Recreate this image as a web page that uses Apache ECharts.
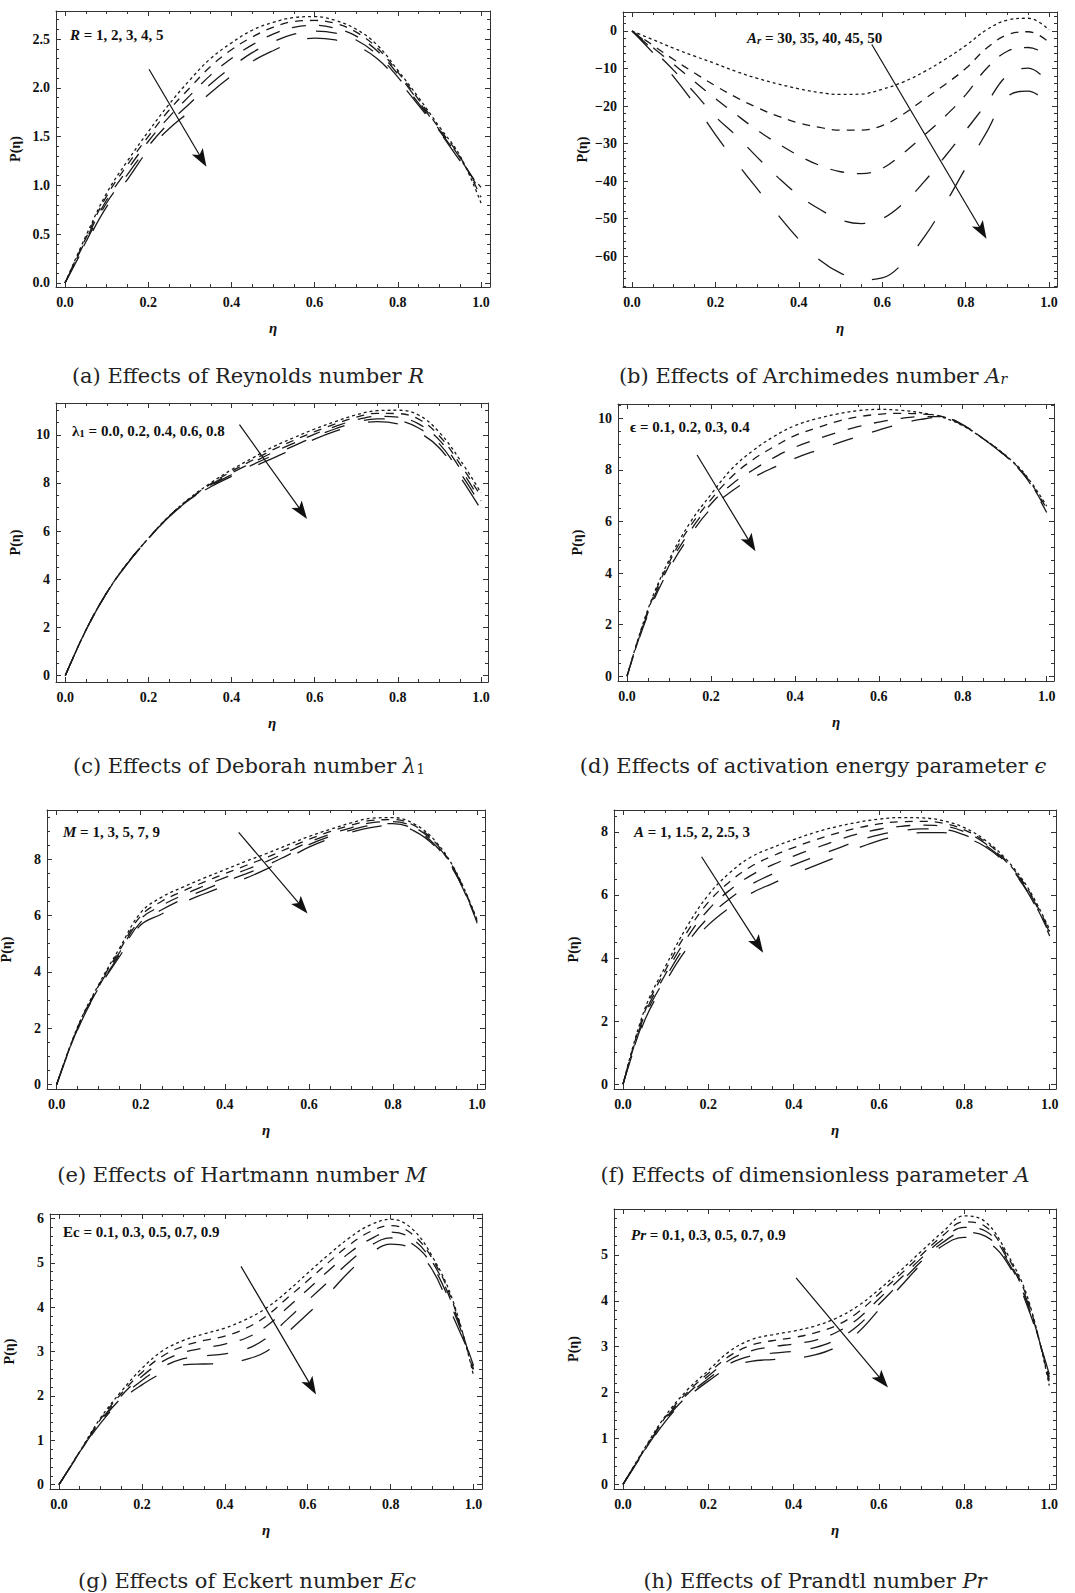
<!DOCTYPE html>
<html><head><meta charset="utf-8">
<script src="https://cdn.jsdelivr.net/npm/echarts@6/dist/echarts.min.js"></script>
<style>html,body{margin:0;padding:0;background:#fff}#c{width:1075px;height:1593px}</style>
</head><body><div id="c"></div>
<script>
// ---------- data ----------
const eta = [0,0.05,0.1,0.15,0.2,0.25,0.3,0.35,0.4,0.45,0.5,0.55,0.6,0.65,0.7,0.75,0.8,0.85,0.9,0.95,1.0];
const xTicks = [0,0.2,0.4,0.6,0.8,1.0];

// (a) Reynolds number R = 1..5
const aYTicks = [0,0.5,1,1.5,2,2.5];
const aR1 = [0,0.48,0.92,1.25,1.55,1.83,2.08,2.30,2.46,2.59,2.67,2.72,2.73,2.69,2.60,2.44,2.18,1.90,1.60,1.30,0.82];
const aR2 = [0,0.46,0.89,1.21,1.50,1.77,2.00,2.22,2.39,2.52,2.62,2.68,2.69,2.66,2.57,2.41,2.16,1.88,1.58,1.29,0.88];
const aR3 = [0,0.44,0.85,1.16,1.45,1.70,1.92,2.13,2.30,2.44,2.55,2.62,2.64,2.61,2.53,2.38,2.14,1.86,1.57,1.28,0.92];
const aR4 = [0,0.42,0.82,1.11,1.40,1.64,1.84,2.04,2.21,2.36,2.47,2.55,2.58,2.56,2.49,2.34,2.11,1.84,1.56,1.27,0.95];
const aR5 = [0,0.40,0.78,1.06,1.36,1.58,1.76,1.95,2.12,2.27,2.38,2.47,2.51,2.49,2.43,2.30,2.08,1.82,1.55,1.25,0.98];
const aArrow = [[0.202,2.19],[0.329,1.27]];

// (b) Archimedes number Ar = 30..50
const bYTicks = [-60,-50,-40,-30,-20,-10,0];
const bA1 = [0,-2.3,-4.6,-6.7,-8.7,-10.8,-12.6,-14.1,-15.4,-16.4,-16.9,-16.8,-15.5,-13.6,-10.9,-7.6,-3.9,0.3,2.9,3.4,0.3];
const bA2 = [0,-3.8,-7.6,-11.2,-14.6,-17.7,-20.4,-22.7,-24.5,-25.7,-26.4,-26.4,-25.2,-22.2,-18.2,-14.3,-10.0,-4.6,-1.0,-0.2,-3.0];
const bA3 = [0,-4.4,-8.9,-13.5,-18.0,-22.3,-26.4,-30.0,-33.2,-35.8,-37.5,-38.0,-36.6,-32.6,-27.8,-22.8,-17.0,-10.0,-5.4,-4.4,-6.7];
const bA4 = [0,-5.0,-10.5,-16.5,-22.8,-27.9,-33.6,-39.0,-43.8,-47.5,-50.3,-51.3,-50.0,-46.0,-40.2,-33.5,-26.5,-19.3,-11.8,-9.9,-14.0];
const bA5 = [0,-5.8,-12.2,-19.5,-27.6,-35.0,-42.0,-49.0,-55.5,-61.0,-64.5,-66.3,-65.8,-61.8,-55.0,-46.2,-36.5,-27.0,-17.5,-16.0,-19.8];
const bArrow = [[0.575,-3.6],[0.839,-53.3]];

// (c) Deborah number lambda1 = 0.0..0.8
const cYTicks = [0,2,4,6,8,10];
const cL1 = [0,1.9,3.45,4.68,5.7,6.63,7.38,8.0,8.55,9.03,9.5,9.88,10.24,10.55,10.83,11.0,11.02,10.82,10.1,8.95,7.6];
const cL2 = [0,1.9,3.45,4.68,5.7,6.62,7.36,7.96,8.48,8.94,9.38,9.77,10.13,10.45,10.73,10.89,10.88,10.65,9.95,8.78,7.45];
const cL3 = [0,1.9,3.44,4.67,5.69,6.61,7.34,7.92,8.41,8.84,9.27,9.65,10.03,10.35,10.62,10.77,10.73,10.45,9.78,8.6,7.25];
const cL4 = [0,1.89,3.44,4.67,5.69,6.6,7.32,7.88,8.34,8.75,9.15,9.54,9.92,10.25,10.52,10.66,10.6,10.28,9.62,8.42,7.08];
const cL5 = [0,1.89,3.43,4.66,5.68,6.59,7.3,7.84,8.27,8.65,9.03,9.42,9.82,10.15,10.42,10.55,10.45,10.1,9.45,8.25,6.9];
const cArrow = [[0.419,10.42],[0.569,6.81]];

// (d) activation energy epsilon = 0.1..0.4
const dYTicks = [0,2,4,6,8,10];
const dE1 = [0,2.6,4.5,5.95,7.05,8.05,8.75,9.3,9.72,9.98,10.17,10.3,10.35,10.32,10.22,10.05,9.72,9.2,8.6,7.8,6.6];
const dE2 = [0,2.55,4.4,5.8,6.85,7.75,8.4,8.9,9.33,9.62,9.88,10.06,10.16,10.2,10.17,10.08,9.74,9.2,8.58,7.77,6.5];
const dE3 = [0,2.47,4.28,5.62,6.68,7.45,8.0,8.48,8.88,9.18,9.45,9.68,9.86,10.0,10.07,10.07,9.75,9.2,8.57,7.75,6.42];
const dE4 = [0,2.4,4.15,5.45,6.5,7.18,7.7,8.1,8.45,8.75,9.03,9.3,9.55,9.78,9.96,10.05,9.75,9.2,8.55,7.72,6.35];
const dArrow = [[0.167,8.58],[0.295,5.14]];

// (e) Hartmann number M = 1..9
const eYTicks = [0,2,4,6,8];
const eM1 = [0,2.05,3.55,4.85,6.1,6.65,7.0,7.32,7.62,7.92,8.2,8.5,8.8,9.05,9.28,9.45,9.47,9.25,8.65,7.55,5.85];
const eM2 = [0,2.03,3.51,4.77,5.98,6.5,6.86,7.18,7.48,7.77,8.06,8.38,8.7,8.97,9.2,9.37,9.4,9.19,8.6,7.52,5.82];
const eM3 = [0,2.0,3.47,4.7,5.87,6.35,6.72,7.04,7.34,7.62,7.92,8.26,8.6,8.88,9.11,9.29,9.33,9.13,8.56,7.5,5.79];
const eM4 = [0,1.98,3.43,4.62,5.76,6.2,6.58,6.9,7.2,7.47,7.78,8.14,8.51,8.8,9.03,9.2,9.26,9.06,8.5,7.47,5.75];
const eM5 = [0,1.95,3.4,4.55,5.66,6.05,6.45,6.76,7.05,7.32,7.65,8.03,8.42,8.72,8.95,9.12,9.2,9.0,8.45,7.45,5.72];
const eArrow = [[0.433,8.95],[0.583,6.31]];

// (f) dimensionless parameter A = 1..3
const fYTicks = [0,2,4,6,8];
const fA1 = [0,2.35,3.75,5.0,6.0,6.7,7.2,7.5,7.75,7.98,8.16,8.3,8.4,8.45,8.44,8.35,8.13,7.72,7.1,6.2,4.9];
const fA2 = [0,2.27,3.63,4.82,5.77,6.42,6.9,7.23,7.5,7.74,7.95,8.12,8.25,8.32,8.33,8.27,8.06,7.67,7.05,6.15,4.85];
const fA3 = [0,2.18,3.5,4.64,5.53,6.15,6.62,6.95,7.23,7.48,7.72,7.93,8.08,8.17,8.21,8.18,8.0,7.62,7.02,6.12,4.8];
const fA4 = [0,2.09,3.38,4.47,5.29,5.88,6.33,6.66,6.95,7.21,7.46,7.71,7.9,8.03,8.09,8.07,7.9,7.57,6.98,6.08,4.75];
const fA5 = [0,2.0,3.25,4.3,5.05,5.6,6.05,6.36,6.66,6.93,7.2,7.48,7.72,7.88,7.97,7.97,7.82,7.52,6.95,6.05,4.7];
const fArrow = [[0.184,7.21],[0.317,4.41]];

// (g) Eckert number Ec = 0.1..0.9
const gYTicks = [0,1,2,3,4,5,6];
const gE1 = [0,0.75,1.5,2.1,2.62,3.02,3.25,3.4,3.53,3.72,3.98,4.35,4.77,5.18,5.56,5.85,5.98,5.78,5.15,4.15,2.45];
const gE2 = [0,0.74,1.47,2.05,2.53,2.9,3.12,3.25,3.35,3.52,3.8,4.2,4.6,5.01,5.4,5.7,5.84,5.66,5.1,4.1,2.52];
const gE3 = [0,0.74,1.44,2.0,2.44,2.78,2.98,3.08,3.17,3.3,3.57,3.98,4.4,4.82,5.22,5.53,5.69,5.55,5.03,4.03,2.6];
const gE4 = [0,0.73,1.41,1.95,2.35,2.65,2.84,2.9,2.95,3.05,3.3,3.72,4.15,4.58,5.02,5.38,5.56,5.44,4.95,3.95,2.68];
const gE5 = [0,0.72,1.38,1.9,2.25,2.52,2.7,2.72,2.74,2.82,3.0,3.42,3.85,4.3,4.8,5.2,5.42,5.32,4.85,3.8,2.75];
const gArrow = [[0.439,4.92],[0.609,2.21]];

// (h) Prandtl number Pr = 0.1..0.9
const hYTicks = [0,1,2,3,4,5];
const hP1 = [0,0.78,1.5,2.05,2.48,2.9,3.15,3.26,3.34,3.45,3.62,3.88,4.24,4.65,5.08,5.5,5.85,5.72,5.05,4.05,2.15];
const hP2 = [0,0.76,1.47,2.0,2.42,2.8,3.03,3.13,3.2,3.3,3.46,3.74,4.15,4.57,5.0,5.42,5.72,5.62,5.0,4.0,2.22];
const hP3 = [0,0.75,1.44,1.96,2.36,2.71,2.91,3.0,3.06,3.14,3.31,3.6,4.04,4.48,4.93,5.34,5.6,5.52,4.95,3.95,2.28];
const hP4 = [0,0.73,1.41,1.92,2.3,2.63,2.8,2.86,2.9,2.98,3.15,3.45,3.92,4.39,4.86,5.27,5.49,5.41,4.9,3.9,2.34];
const hP5 = [0,0.72,1.38,1.88,2.25,2.55,2.68,2.72,2.75,2.82,2.99,3.3,3.8,4.3,4.8,5.2,5.38,5.3,4.85,3.85,2.4];
const hArrow = [[0.406,4.5],[0.608,2.26]];

// ---------- layout / style ----------
const SERIF = 'Liberation Serif';
const CAPFONT = 'DejaVu Serif';
const LC = '#333';
const INK = '#1a1a1a';
const dashes = [[3,3],[8,7],[14,13],[21,20],[30,29]];

const intFmt = v => (v < 0 ? '\u2212' : '') + Math.abs(Math.round(v));
const oneFmt = v => v.toFixed(1);

const panels = [
  {grid:{left:56,top:11,width:434,height:276}, x:[-0.0216,1.0216], y:[-0.041,2.787], yT:aYTicks, yStep:0.1, fmt:oneFmt, curves:[aR1,aR2,aR3,aR4,aR5], arrow:aArrow},
  {grid:{left:623,top:12,width:434,height:275}, x:[-0.0216,1.019], y:[-68.2,5.06], yT:bYTicks, yStep:2, fmt:intFmt, curves:[bA1,bA2,bA3,bA4,bA5], arrow:bArrow},
  {grid:{left:56,top:403,width:432,height:279}, x:[-0.0224,1.017], y:[-0.27,11.32], yT:cYTicks, yStep:0.5, fmt:intFmt, curves:[cL1,cL2,cL3,cL4,cL5], arrow:cArrow},
  {grid:{left:618,top:404,width:436,height:277}, x:[-0.0215,1.0175], y:[-0.19,10.56], yT:dYTicks, yStep:0.5, fmt:intFmt, curves:[dE1,dE2,dE3,dE4], arrow:dArrow},
  {grid:{left:47,top:810,width:438,height:279}, x:[-0.023,1.019], y:[-0.16,9.74], yT:eYTicks, yStep:0.5, fmt:intFmt, curves:[eM1,eM2,eM3,eM4,eM5], arrow:eArrow},
  {grid:{left:614,top:810,width:442,height:279}, x:[-0.0212,1.0148], y:[-0.15,8.69], yT:fYTicks, yStep:0.5, fmt:intFmt, curves:[fA1,fA2,fA3,fA4,fA5], arrow:fArrow},
  {grid:{left:50,top:1214,width:432,height:275}, x:[-0.0217,1.0203], y:[-0.097,6.10], yT:gYTicks, yStep:0.2, fmt:intFmt, curves:[gE1,gE2,gE3,gE4,gE5], arrow:gArrow},
  {grid:{left:614,top:1209,width:442,height:280}, x:[-0.0212,1.0158], y:[-0.10,6.0], yT:hYTicks, yStep:0.2, fmt:intFmt, curves:[hP1,hP2,hP3,hP4,hP5], arrow:hArrow}
];

function minorList(lo, hi, step, majors) {
  const out = [];
  const k0 = Math.ceil(lo / step - 1e-9), k1 = Math.floor(hi / step + 1e-9);
  for (let k = k0; k <= k1; k++) {
    const v = +(k * step).toFixed(6);
    if (!majors.some(m => Math.abs(m - v) < 1e-9)) out.push(v);
  }
  return out;
}

const grids = [], xAxes = [], yAxes = [], series = [];
const tickFont = {color:'#111', fontFamily:SERIF, fontWeight:'bold', fontSize:14};
const ARROW_PATH = 'path://M0,0 L6,17 L0,13 L-6,17 Z';

panels.forEach((p, i) => {
  grids.push(Object.assign({outerBoundsMode:'none', containLabel:false}, p.grid));
  const xMinor = minorList(p.x[0], p.x[1], 0.05, xTicks);
  const yMinor = minorList(p.y[0], p.y[1], p.yStep, p.yT);
  const common = {gridIndex:i, type:'value', splitLine:{show:false}, silent:true};
  ['bottom','top'].forEach(pos => {
    xAxes.push(Object.assign({}, common, {
      min:p.x[0], max:p.x[1], position:pos,
      axisLine:{show:true, onZero:false, lineStyle:{color:LC, width:1}},
      axisTick:{show:true, inside:true, length:5, customValues:xTicks, lineStyle:{color:LC, width:1}},
      axisLabel: pos === 'bottom' ? Object.assign({show:true, customValues:xTicks, formatter:oneFmt, margin:8}, tickFont) : {show:false},
      name: pos === 'bottom' ? 'η' : '', nameLocation:'middle', nameGap:33,
      nameTextStyle:{color:'#111', fontFamily:SERIF, fontWeight:'bold', fontStyle:'italic', fontSize:15}
    }));
    xAxes.push(Object.assign({}, common, {
      min:p.x[0], max:p.x[1], position:pos,
      axisLine:{show:false, onZero:false},
      axisTick:{show:true, inside:true, length:3, customValues:xMinor, lineStyle:{color:LC, width:1}},
      axisLabel:{show:false}
    }));
  });
  ['left','right'].forEach(pos => {
    yAxes.push(Object.assign({}, common, {
      min:p.y[0], max:p.y[1], position:pos,
      axisLine:{show:true, onZero:false, lineStyle:{color:LC, width:1}},
      axisTick:{show:true, inside:true, length:5, customValues:p.yT, lineStyle:{color:LC, width:1}},
      axisLabel: pos === 'left' ? Object.assign({show:true, customValues:p.yT, formatter:p.fmt, margin:6}, tickFont) : {show:false},
      name: pos === 'left' ? 'P(η)' : '', nameLocation:'middle', nameGap:34,
      nameTextStyle:{color:'#111', fontFamily:SERIF, fontWeight:'bold', fontSize:14}
    }));
    yAxes.push(Object.assign({}, common, {
      min:p.y[0], max:p.y[1], position:pos,
      axisLine:{show:false, onZero:false},
      axisTick:{show:true, inside:true, length:3, customValues:yMinor, lineStyle:{color:LC, width:1}},
      axisLabel:{show:false}
    }));
  });
  p.curves.forEach((arr, k) => {
    const s = {
      type:'line', xAxisIndex:4*i, yAxisIndex:4*i, smooth:0.4, symbol:'none', showSymbol:false,
      silent:true, animation:false, clip:true,
      lineStyle:{color:INK, width:1.3, type:dashes[k]},
      data: eta.map((x, j) => [x, arr[j]])
    };
    if (k === 0) {
      s.markLine = {
        silent:true, animation:false, symbol:['none', ARROW_PATH], symbolSize:18, symbolKeepAspect:true,
        label:{show:false}, emphasis:{disabled:true},
        itemStyle:{color:'#111'},
        lineStyle:{color:'#111', width:1.2, type:'solid'},
        data:[[{coord:p.arrow[0]}, {coord:p.arrow[1]}]]
      };
    }
    series.push(s);
  });
});

// ---------- texts ----------
const annFont = {fontFamily:SERIF, fontWeight:'bold', fontSize:15, fill:'#111', lineHeight:18, verticalAlign:'bottom'};
const annRich = {
  t: Object.assign({}, annFont),
  i: Object.assign({}, annFont, {fontStyle:'italic'}),
  s: Object.assign({}, annFont, {fontStyle:'italic', fontSize:11, lineHeight:8}),
  u: Object.assign({}, annFont, {fontSize:11, lineHeight:8})
};
const annotations = [
  {x:70, y:33, text:'{i|R}{t| = 1, 2, 3, 4, 5}'},
  {x:747, y:36, text:'{i|A}{s|r}{t| = 30, 35, 40, 45, 50}'},
  {x:72, y:429, text:'{t|λ}{u|1}{t| = 0.0, 0.2, 0.4, 0.6, 0.8}'},
  {x:630, y:425, text:'{t|ϵ = 0.1, 0.2, 0.3, 0.4}'},
  {x:63, y:830, text:'{i|M}{t| = 1, 3, 5, 7, 9}'},
  {x:634, y:830, text:'{i|A}{t| = 1, 1.5, 2, 2.5, 3}'},
  {x:63, y:1230, text:'{t|Ec = 0.1, 0.3, 0.5, 0.7, 0.9}'},
  {x:631, y:1233, text:'{i|Pr}{t| = 0.1, 0.3, 0.5, 0.7, 0.9}'}
];
const capFont = {fontFamily:CAPFONT, fontSize:21, fill:'#222', lineHeight:26, verticalAlign:'bottom'};
const capRich = {
  t: Object.assign({}, capFont),
  i: Object.assign({}, capFont, {fontStyle:'italic'}),
  s: Object.assign({}, capFont, {fontStyle:'italic', fontSize:14, lineHeight:9}),
  u: Object.assign({}, capFont, {fontSize:14, lineHeight:9})
};
const captions = [
  {x:248, y:373, text:'{t|(a) Effects of Reynolds number }{i|R}'},
  {x:813, y:373, text:'{t|(b) Effects of Archimedes number }{i|A}{s|r}'},
  {x:249, y:763, text:'{t|(c) Effects of Deborah number }{i|λ}{u|1}'},
  {x:813, y:763, text:'{t|(d) Effects of activation energy parameter }{i|ϵ}'},
  {x:242, y:1172, text:'{t|(e) Effects of Hartmann number }{i|M}'},
  {x:815, y:1172, text:'{t|(f) Effects of dimensionless parameter }{i|A}'},
  {x:247, y:1578, text:'{t|(g) Effects of Eckert number }{i|Ec}'},
  {x:815, y:1578, text:'{t|(h) Effects of Prandtl number }{i|Pr}'}
];
const graphics = [];
annotations.forEach(a => graphics.push({type:'text', x:a.x, y:a.y, silent:true,
  style:{text:a.text, rich:annRich, align:'left', verticalAlign:'middle', fontFamily:SERIF, fontSize:15, fill:'#111'}}));
captions.forEach(c => graphics.push({type:'text', x:c.x, y:c.y, silent:true,
  style:{text:c.text, rich:capRich, align:'center', verticalAlign:'middle', fontFamily:CAPFONT, fontSize:21, fill:'#222'}}));

const chart = echarts.init(document.getElementById('c'), null, {renderer:'svg', width:1075, height:1593});
chart.setOption({
  animation:false,
  backgroundColor:'#fff',
  grid:grids, xAxis:xAxes, yAxis:yAxes, series:series,
  graphic:graphics
});
</script></body></html>
